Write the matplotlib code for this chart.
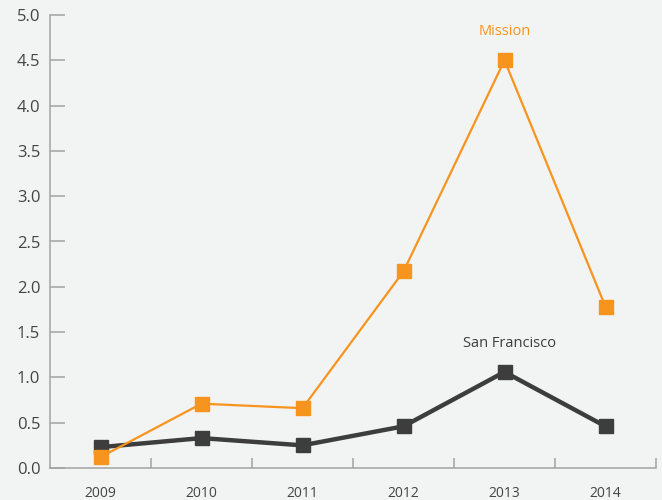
import matplotlib

matplotlib.use("Agg")
import matplotlib.pyplot as plt

years = ["2009", "2010", "2011", "2012", "2013", "2014"]
mission = [0.12, 0.71, 0.66, 2.17, 4.50, 1.78]
san_francisco = [0.23, 0.33, 0.25, 0.46, 1.06, 0.46]
y_ticks = [0.0, 0.5, 1.0, 1.5, 2.0, 2.5, 3.0, 3.5, 4.0, 4.5, 5.0]

BG = "#f2f3f3"
ORANGE = "#f7941d"
DARK = "#3d3d3d"
AXIS = "#a3a3a3"

plt.rcParams["font.family"] = ["Open Sans", "DejaVu Sans"]

fig = plt.figure(figsize=(6.62, 5.0), dpi=100, facecolor=BG)
ax = fig.add_axes([50 / 662, 32 / 500, 606 / 662, 453 / 500], facecolor=BG)

x = list(range(len(years)))
ax.plot(x, san_francisco, color=DARK, lw=3.2, marker="s", ms=9.5,
        mec=DARK, mfc=DARK, zorder=3)
ax.plot(x, mission, color=ORANGE, lw=1.6, marker="s", ms=9.5,
        mec=ORANGE, mfc=ORANGE, zorder=4)

ax.text(4, 4.74, "Mission", color=ORANGE, fontsize=10.5, ha="center", va="bottom")
ax.text(4.05, 1.29, "San Francisco", color=DARK, fontsize=10.5, ha="center", va="bottom")

ax.set_xlim(-0.5, len(years) - 0.5)
ax.set_ylim(0, 5)

ax.set_xticks(x, years)
ax.set_xticks([i + 0.5 for i in x], minor=True)
ax.tick_params(axis="x", which="major", length=0, pad=13, labelsize=10, labelcolor="#444444")
ax.tick_params(axis="x", which="minor", direction="in", length=7.5, width=1.1, color=AXIS)

ax.set_yticks(y_ticks, [f"{v:.1f}" for v in y_ticks])
ax.tick_params(axis="y", direction="in", length=11, width=1.1, color=AXIS,
               pad=7, labelsize=12, labelcolor="#444444")

for side in ["top", "right"]:
    ax.spines[side].set_visible(False)
for side in ["left", "bottom"]:
    ax.spines[side].set_color(AXIS)
    ax.spines[side].set_linewidth(1.1)

fig.savefig("out.png", dpi=100, facecolor=BG)
